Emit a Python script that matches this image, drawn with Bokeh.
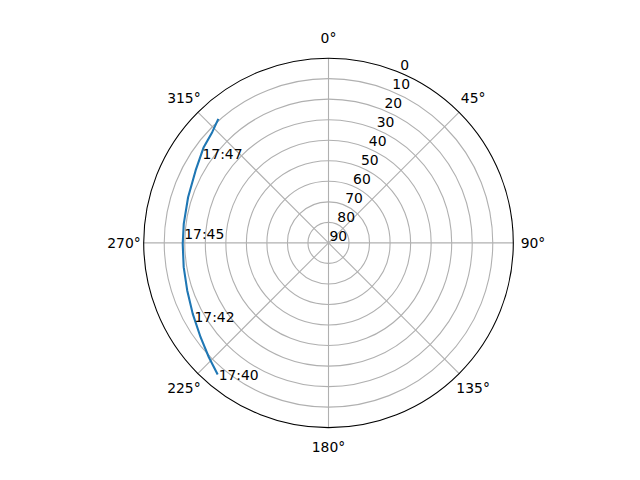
import math
from bokeh.plotting import figure
from bokeh.models import Range1d
from bokeh.core.properties import value
from bokeh.embed import file_html
from bokeh.resources import INLINE

# ---- data ----
# satellite pass: azimuth (deg, clockwise from north) and elevation (deg)
pass_az = [220.1, 226.3, 233.6, 242.4, 251.4, 260.5, 269.6, 277.5, 288.0, 298.6, 307.5, 313.6, 318.4]
pass_el = [6.2, 9.4, 12.6, 15.4, 17.4, 18.5, 19.0, 18.9, 18.1, 16.3, 13.4, 11.8, 9.2]

label_time = ["17:40", "17:42", "17:45", "17:47"]
label_az = [220.1, 241.1, 273.6, 305.1]
label_el = [6.2, 14.9, 19.1, 14.4]

theta_ticks = [0, 45, 90, 135, 180, 225, 270, 315]
theta_labels = ["0°", "45°", "90°", "135°", "180°", "225°", "270°", "315°"]
r_ticks = [0, 10, 20, 30, 40, 50, 60, 70, 80, 90]
r_labels = ["0", "10", "20", "30", "40", "50", "60", "70", "80", "90"]
r_label_angle = 22.5

# ---- layout ----
W, H = 624, 464
R_PX = 184.8
CX, CY = 328.0, 242.4          # centre in canvas pixels (from top-left)
S = 90.0 / R_PX                # data units per pixel (radius 90 = horizon)

FONT = "DejaVu Sans"
FS = "13.9px"

def to_xy(az, el):
    r = 90.0 - el
    a = math.radians(az)
    return r * math.sin(a), r * math.cos(a)

p = figure(width=W, height=H,
           x_range=Range1d(-CX * S, (W - CX) * S),
           y_range=Range1d(-(H - CY) * S, CY * S),
           x_axis_type=None, y_axis_type=None,
           output_backend="svg", toolbar_location=None,
           min_border=0, outline_line_color=None)
p.grid.visible = False
p.background_fill_color = "white"
p.border_fill_color = "white"

# radial grid circles (elevation rings)
ring_r = [90.0 - e for e in r_ticks if 0 < e < 90]
p.circle(x=[0] * len(ring_r), y=[0] * len(ring_r), radius=ring_r,
         fill_color=None, line_color="#b0b0b0", line_width=1.1)

# angular grid lines
ex = [to_xy(t, 0)[0] for t in theta_ticks]
ey = [to_xy(t, 0)[1] for t in theta_ticks]
p.segment(x0=[0] * len(ex), y0=[0] * len(ey), x1=ex, y1=ey,
          line_color="#b0b0b0", line_width=1.1)

# outer frame
p.circle(x=[0], y=[0], radius=[90.0], fill_color=None,
         line_color="black", line_width=1.1)

# pass curve
px_ = [to_xy(a, e)[0] for a, e in zip(pass_az, pass_el)]
py_ = [to_xy(a, e)[1] for a, e in zip(pass_az, pass_el)]
p.line(px_, py_, line_color="#1f77b4", line_width=2.1)

# time labels
lx = [to_xy(a, e)[0] for a, e in zip(label_az, label_el)]
ly = [to_xy(a, e)[1] for a, e in zip(label_az, label_el)]
p.text(x=lx, y=ly, text=label_time, text_align="left",
       text_baseline="alphabetic", x_offset=1,
       text_font=value(FONT), text_font_size=FS, text_color="black")

# theta tick labels
tr = 90.0 - 204.5 * S  # radius beyond horizon (negative elevation)
tx = [to_xy(t, tr)[0] for t in theta_ticks]
ty = [to_xy(t, tr)[1] for t in theta_ticks]
p.text(x=tx, y=ty, text=theta_labels, text_align="center",
       text_baseline="middle", text_font=value(FONT),
       text_font_size=FS, text_color="black")

# radial tick labels
rx = [to_xy(r_label_angle, e)[0] for e in r_ticks]
ry = [to_xy(r_label_angle, e)[1] for e in r_ticks]
p.text(x=rx, y=ry, text=r_labels, text_align="left",
       text_baseline="bottom", x_offset=1, y_offset=-2,
       text_font=value(FONT), text_font_size=FS, text_color="black")

open("out.html", "w").write(file_html(p, INLINE))
